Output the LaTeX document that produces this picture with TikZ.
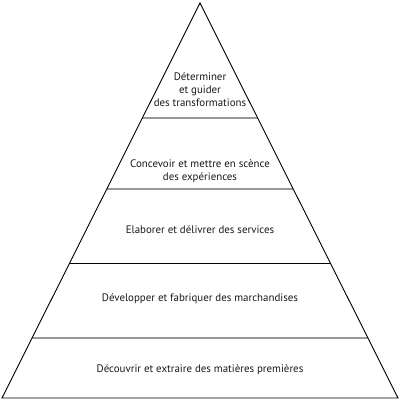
\documentclass[tikz,border=0pt]{standalone}
\usepackage{fontspec}
\setmainfont{PT Sans}
\usetikzlibrary{calc}
\begin{document}
\begin{tikzpicture}[x=1pt,y=1pt,
  outline/.style={draw=black,line width=0.9pt,line join=miter},
  graydiv/.style={draw=black!40,line width=1.1pt},
  blackdiv/.style={draw=black,line width=0.9pt},
  label/.style={font=\fontsize{10.9}{13}\selectfont,align=center,text=black!90,inner sep=0pt}]
\useasboundingbox (0,0) rectangle (400,400);
\coordinate (A) at (200,397);
\coordinate (BL) at (2,2);
\coordinate (BR) at (398,2);
% divider endpoints
\coordinate (L1) at ($(BL)!0.7089!(A)$); \coordinate (R1) at ($(BR)!0.7089!(A)$);
\coordinate (L2) at ($(BL)!0.5291!(A)$); \coordinate (R2) at ($(BR)!0.5291!(A)$);
\coordinate (L3) at ($(BL)!0.3418!(A)$); \coordinate (R3) at ($(BR)!0.3418!(A)$);
\coordinate (L4) at ($(BL)!0.1519!(A)$); \coordinate (R4) at ($(BR)!0.1519!(A)$);
\draw[graydiv] (L1) -- (R1);
\draw[graydiv] (L2) -- (R2);
\draw[blackdiv] (L3) -- (R3);
\draw[graydiv] (L4) -- (R4);
\draw[outline] (A) -- (BR) -- (BL) -- cycle;
\node[label] (t1) at (200,310) {Déterminer\\et guider\\des transformations};
\node[label] (t2) at (200,229) {Concevoir et mettre en scènce\\des expériences};
\node[label] (t3) at (200,170) {Elaborer et délivrer des services};
\node[label] (t4) at (200,101) {Développer et fabriquer des marchandises};
\node[label] (t5) at (200,30) {Découvrir et extraire des matières premières};
\end{tikzpicture}
\end{document}
